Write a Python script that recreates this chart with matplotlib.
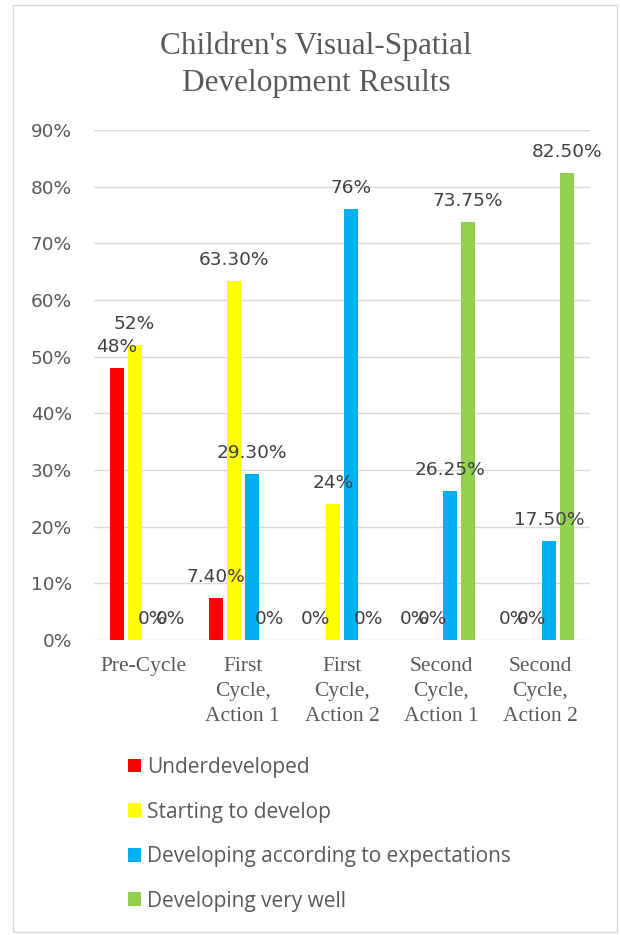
import matplotlib
matplotlib.use("Agg")
import matplotlib.pyplot as plt
import numpy as np
from matplotlib.patches import Rectangle, Patch

categories = ["Pre-Cycle", "First\nCycle,\nAction 1", "First\nCycle,\nAction 2",
              "Second\nCycle,\nAction 1", "Second\nCycle,\nAction 2"]
series_names = ["Underdeveloped", "Starting to develop",
                "Developing according to expectations", "Developing very well"]
underdeveloped = [0.48, 0.074, 0.0, 0.0, 0.0]
starting = [0.52, 0.633, 0.24, 0.0, 0.0]
expected = [0.0, 0.293, 0.76, 0.2625, 0.175]
very_well = [0.0, 0.0, 0.0, 0.7375, 0.825]
labels_under = ["48%", "7.40%", "0%", "0%", "0%"]
labels_start = ["52%", "63.30%", "24%", "0%", "0%"]
labels_exp = ["0%", "29.30%", "76%", "26.25%", "17.50%"]
labels_well = ["0%", "0%", "0%", "73.75%", "82.50%"]
yticks = [0.0, 0.1, 0.2, 0.3, 0.4, 0.5, 0.6, 0.7, 0.8, 0.9]
ytick_labels = ["0%", "10%", "20%", "30%", "40%", "50%", "60%", "70%", "80%", "90%"]

colors = ["#FF0000", "#FFFF00", "#00B0F0", "#92D050"]
text_color = "#595959"
grid_color = "#D9D9D9"

W, H = 620, 935
fig = plt.figure(figsize=(W / 100, H / 100), dpi=100)
fig.patch.set_facecolor("white")

# outer chart border
fig.patches.append(Rectangle((13 / W, 1 - 932 / H), (617 - 13) / W, (932 - 5) / H,
                             transform=fig.transFigure, fill=False,
                             edgecolor="#D9D9D9", linewidth=1.0))

left, right, top_px, bot_px = 94, 590, 130, 640
ax = fig.add_axes([left / W, 1 - bot_px / H, (right - left) / W, (bot_px - top_px) / H])

x = np.arange(len(categories))
step = 0.181
width = 0.141
all_vals = [underdeveloped, starting, expected, very_well]
all_labels = [labels_under, labels_start, labels_exp, labels_well]
for i, (vals, labs) in enumerate(zip(all_vals, all_labels)):
    pos = x + (i - 1.5) * step
    ax.bar(pos, vals, width=width, color=colors[i], zorder=3)
    for px_, v, lab in zip(pos, vals, labs):
        ax.annotate(lab, (px_, v), xytext=(0, 11.5), textcoords="offset points",
                    ha="center", va="baseline", fontsize=13.3, color="#404040",
                    family="DejaVu Sans", zorder=4)

ax.set_xlim(-0.5, len(categories) - 0.5)
ax.set_ylim(0, 0.9)
ax.set_yticks(yticks)
ax.set_yticklabels(ytick_labels, fontsize=13.3, color=text_color, family="DejaVu Sans")
ax.set_xticks(x)
ax.set_xticklabels(categories, fontsize=15.5, color=text_color, family="Liberation Serif",
                   linespacing=1.4, va="top")
ax.tick_params(axis="both", length=0)
ax.tick_params(axis="x", pad=12.5)
ax.tick_params(axis="y", pad=16)
for s in ax.spines.values():
    s.set_visible(False)
ax.grid(axis="y", color=grid_color, linewidth=1.0, zorder=0)
ax.set_axisbelow(True)

fig.text(316 / W, 1 - 65 / H, "Children's Visual-Spatial\nDevelopment Results",
         ha="center", va="center", fontsize=22.5, color=text_color,
         family="Liberation Serif", linespacing=1.36)

handles = [Patch(facecolor=c, edgecolor="none") for c in colors]
fig.legend(handles, series_names, loc="upper left",
           bbox_to_anchor=(128 / W, 1 - 757 / H), frameon=False,
           labelcolor=text_color, prop={"family": "Open Sans", "size": 15},
           handlelength=0.63, handleheight=0.63, handletextpad=0.3,
           labelspacing=1.13, borderpad=0, borderaxespad=0)

fig.savefig("out.png", dpi=100)
